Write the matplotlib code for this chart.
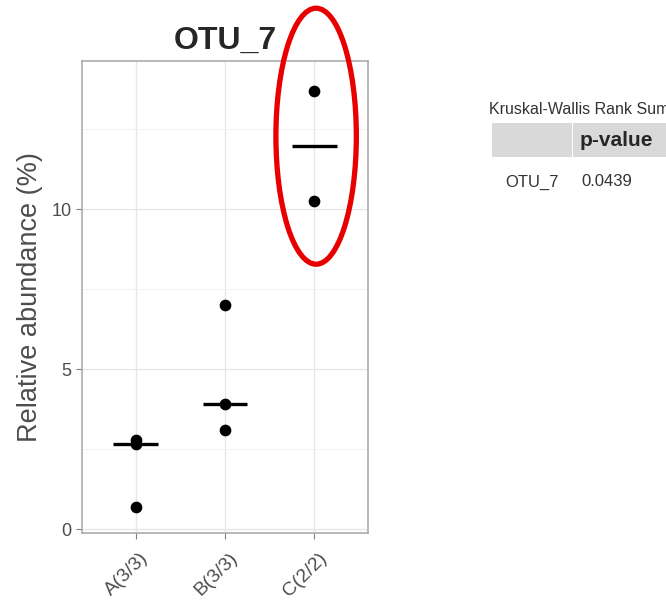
import numpy as np
import matplotlib
matplotlib.use("Agg")
import matplotlib.pyplot as plt
import matplotlib.transforms as mtransforms
from matplotlib.patches import Ellipse, Rectangle

plt.rcParams["font.family"] = ["Liberation Sans", "DejaVu Sans"]

# Relative abundance of OTU_7 per group
groups = ["A(3/3)", "B(3/3)", "C(2/2)"]
group_a = [0.7, 2.65, 2.78]
group_b = [3.1, 3.9, 7.0]
group_c = [10.25, 13.7]
values = [group_a, group_b, group_c]

# Kruskal-Wallis result table
test_title = "Kruskal-Wallis Rank Sum Test"
test_otu = "OTU_7"
test_pvalue = "0.0439"

fig = plt.figure(figsize=(6.66, 6.07), dpi=100)
ax = fig.add_axes([0.1231, 0.1219, 0.4294, 0.7776])

x_pos = np.arange(1, len(groups) + 1)
for x, vals in zip(x_pos, values):
    ax.scatter([x] * len(vals), vals, s=55, color="black", zorder=3)
    med = np.median(vals)
    ax.plot([x - 0.25, x + 0.25], [med, med], color="black", lw=2.4,
            solid_capstyle="butt", zorder=4)

ax.set_xlim(0.4, 3.6)
ax.set_ylim(-0.125, 14.625)
ax.set_xticks(x_pos)
ax.set_xticklabels([])
# rotated group labels, ending just right of each tick
lab_tr = mtransforms.offset_copy(ax.get_xaxis_transform(), fig=fig,
                                 x=7.5, y=-16, units="points")
for x, g in zip(x_pos, groups):
    ax.text(x, 0, g, transform=lab_tr, rotation=45, ha="right", va="center",
            rotation_mode="anchor", fontsize=14, color="#4d4d4d")
ax.set_yticks([0, 5, 10])
ax.set_yticks([2.5, 7.5, 12.5], minor=True)
ax.set_yticklabels(["0", "5", "10"], fontsize=13, color="#4d4d4d")
ax.tick_params(axis="both", which="major", length=4, color="#7f7f7f", width=0.8)
ax.tick_params(axis="y", which="minor", length=0)
ax.grid(True, which="major", color="#e6e6e6", lw=0.9, zorder=0)
ax.grid(True, which="minor", axis="y", color="#f0f0f0", lw=0.6, zorder=0)
ax.set_axisbelow(True)
for s in ax.spines.values():
    s.set_color("#a6a6a6")
    s.set_linewidth(1.1)

ax.set_ylabel("Relative abundance (%)", fontsize=19.5, color="#4d4d4d", labelpad=6)
ax.set_title("OTU_7", fontsize=23, fontweight="bold", color="#262626", pad=9)

# highlight group C
c_center = (np.min(group_c) + np.max(group_c)) / 2 + 0.3
ax.add_patch(Ellipse((3.02, c_center), 0.9, 8.0, fill=False, edgecolor="#e80000",
                     lw=3.8, clip_on=False, zorder=5))

# result table on the right, running off the page edge
fig.text(489 / 666, 1 - 110 / 607, test_title, fontsize=11.5, color="#333333",
         va="center", ha="left")
fig.add_artist(Rectangle((492 / 666, 1 - 157 / 607), (572 - 492) / 666, 34 / 607,
                         transform=fig.transFigure, facecolor="#d9d9d9", edgecolor="none"))
fig.add_artist(Rectangle((573 / 666, 1 - 157 / 607), (666 - 573) / 666, 34 / 607,
                         transform=fig.transFigure, facecolor="#d9d9d9", edgecolor="none"))
fig.text(580 / 666, 1 - 140 / 607, "p-value", fontsize=15, fontweight="bold",
         color="#262626", va="center", ha="left")
fig.text(505 / 666, 1 - 182 / 607, test_otu, fontsize=12, color="#333333",
         va="center", ha="left")
fig.text(581 / 666, 1 - 182 / 607, test_pvalue, fontsize=12, color="#333333",
         va="center", ha="left")

fig.savefig("out.png", dpi=100, facecolor="white")
